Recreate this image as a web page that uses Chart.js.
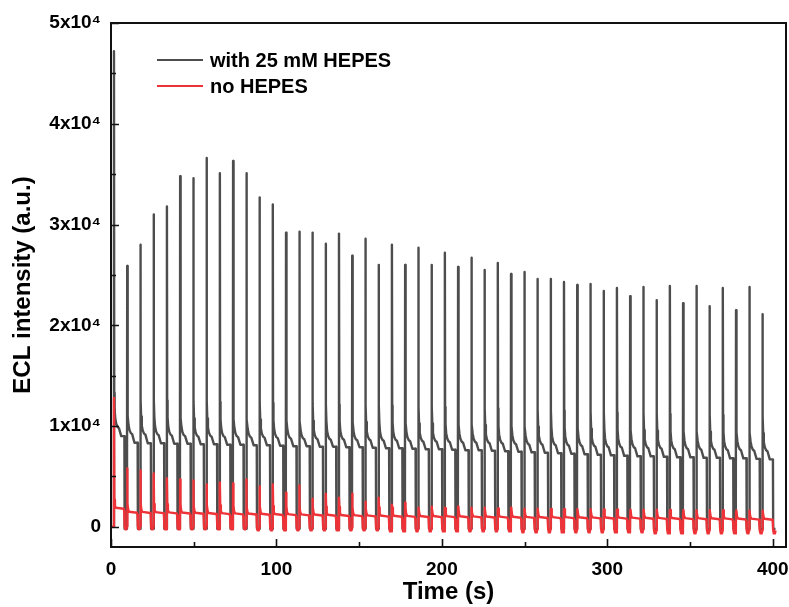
<!DOCTYPE html>
<html>
<head>
<meta charset="utf-8">
<title>ECL intensity vs time</title>
<script src="https://cdn.jsdelivr.net/npm/chart.js@4.4.1/dist/chart.umd.min.js"></script>
<style>
  html, body { margin: 0; padding: 0; background: #fff; }
  #wrap { width: 789px; height: 607px; }
</style>
</head>
<body>
<div id="wrap"><canvas id="eclChart" width="789" height="607"></canvas></div>
<script>
// pulse start times (s), one every ~8 s
var pulseTimes = [1.8, 9.8, 17.8, 25.8, 33.8, 41.8, 49.8, 57.8, 65.8, 73.8,
  81.8, 89.8, 97.8, 105.8, 113.8, 121.8, 129.8, 137.8, 145.8, 153.8,
  161.8, 169.8, 177.8, 185.8, 193.8, 201.8, 209.8, 217.8, 225.8, 233.8,
  241.8, 249.8, 257.8, 265.8, 273.8, 281.8, 289.8, 297.8, 305.8, 313.8,
  321.8, 329.8, 337.8, 345.8, 353.8, 361.8, 369.8, 377.8, 385.8, 393.8];

// with 25 mM HEPES
var hepesPeaks = [47200, 25900, 28000, 31000, 31800, 34800, 34600, 36600, 35100, 36300,
  35100, 32700, 32000, 29200, 29300, 29200, 28100, 29100, 26900, 28600,
  26000, 28000, 26000, 27700, 26000, 27200, 25800, 26700, 25500, 26200,
  25100, 25300, 24600, 24600, 24300, 24000, 24100, 23400, 23700, 22900,
  23800, 22500, 23900, 22200, 23900, 21900, 23700, 21500, 23800, 21100];
var hepesPlateau = [9800, 9200, 9150, 9100, 9050, 9000, 8950, 8950, 8900, 8900,
  8850, 8850, 8800, 8750, 8700, 8700, 8650, 8650, 8600, 8600,
  8550, 8550, 8500, 8450, 8450, 8400, 8350, 8350, 8300, 8250,
  8200, 8150, 8150, 8100, 8050, 8000, 7950, 7900, 7850, 7800,
  7800, 7750, 7700, 7700, 7650, 7650, 7600, 7600, 7550, 7500];
var hepesStep = [9000, 8350, 8300, 8300, 8250, 8250, 8200, 8200, 8150, 8150,
  8100, 8100, 8050, 8000, 8000, 7950, 7950, 7900, 7900, 7850,
  7800, 7800, 7750, 7700, 7700, 7650, 7600, 7600, 7550, 7500,
  7450, 7400, 7350, 7300, 7250, 7200, 7150, 7100, 7050, 7000,
  7000, 6950, 6900, 6900, 6850, 6850, 6800, 6800, 6750, 6700];
var hepesOff = -200;

// no HEPES
var noHepesPeaks = [12800, 5800, 5600, 5300, 4800, 4700, 4600, 4200, 4400, 4300,
  4700, 4000, 4200, 3400, 4100, 2800, 3300, 2900, 3300, 2500,
  2900, 2200, 2400, 1900, 2000, 1900, 2000, 1900, 1900, 1800,
  1900, 1700, 1800, 1700, 1700, 1600, 1700, 1600, 1600, 1500,
  1600, 1500, 1500, 1400, 1500, 1400, 1500, 1400, 1400, 1300];
var noHepesPlateau = [1800, 1400, 1380, 1360, 1340, 1320, 1300, 1280, 1260, 1240,
  1220, 1200, 1180, 1160, 1140, 1120, 1100, 1080, 1060, 1040,
  1020, 1000, 990, 980, 970, 960, 950, 940, 930, 920,
  900, 890, 880, 870, 860, 850, 840, 830, 820, 810,
  800, 790, 780, 770, 760, 750, 740, 730, 720, 700];
var noHepesOff = [-250, -250, -250, -250, -250, -250, -250, -250, -250, -250,
  -350, -350, -350, -350, -350, -350, -350, -350, -350, -350,
  -450, -450, -450, -450, -450, -450, -450, -450, -450, -450,
  -550, -550, -550, -550, -550, -550, -550, -550, -550, -550,
  -650, -650, -650, -650, -650, -650, -650, -650, -650, -650];

var xTicks = [0, 100, 200, 300, 400];
var xMinorTicks = [50, 150, 250, 350];
var yTicks = [0, 10000, 20000, 30000, 40000, 50000];
var yTickLabels = ['0', '1x10\u2074', '2x10\u2074', '3x10\u2074', '4x10\u2074', '5x10\u2074'];
var yMinorTicks = [5000, 15000, 25000, 35000, 45000];

var seriesNames = ['with 25 mM HEPES', 'no HEPES'];
var blackColor = '#4d4d4d';
var redColor = '#ee3338';

// each pulse: spike, fast decay to plateau, small step down, then off
function buildHepes() {
    var pts = [{ x: 0, y: 0 }, { x: pulseTimes[0] - 0.1, y: 0 }];
    pulseTimes.forEach(function (t, k) {
        var p = hepesPlateau[k], s = hepesStep[k];
        pts.push({ x: t, y: hepesPeaks[k] });
        pts.push({ x: t + 0.15, y: p + 3500 });
        pts.push({ x: t + 0.4, y: p + 1800 });
        pts.push({ x: t + 0.8, y: p + 900 });
        pts.push({ x: t + 1.4, y: p + 400 });
        pts.push({ x: t + 2.2, y: p + 100 });
        pts.push({ x: t + 3.0, y: p });
        pts.push({ x: t + 4.4, y: s });
        pts.push({ x: t + 6.3, y: s });
        pts.push({ x: t + 6.45, y: hepesOff });
        pts.push({ x: t + 7.85, y: hepesOff });
    });
    return pts;
}

function buildNoHepes() {
    var pts = [{ x: 0, y: 0 }, { x: pulseTimes[0] - 0.1, y: 0 }];
    pulseTimes.forEach(function (t, k) {
        var p = noHepesPlateau[k], f = noHepesOff[k];
        pts.push({ x: t, y: noHepesPeaks[k] });
        pts.push({ x: t + 0.2, y: p + 900 });
        pts.push({ x: t + 0.6, y: p + 300 });
        pts.push({ x: t + 1.2, y: p + 100 });
        pts.push({ x: t + 5.9, y: p });
        pts.push({ x: t + 6.2, y: p - 200 });
        pts.push({ x: t + 6.45, y: f + 300 });
        pts.push({ x: t + 6.8, y: f });
        pts.push({ x: t + 7.5, y: f });
        pts.push({ x: t + 7.9, y: f + 300 });
    });
    return pts;
}

var FONT = 'Arial, "Liberation Sans", sans-serif';

// frame, inward ticks and the legend drawn inside the plot
var framePlugin = {
    id: 'frame',
    afterDraw: function (chart) {
        var ctx = chart.ctx, a = chart.chartArea;
        var xs = chart.scales.x, ys = chart.scales.y;
        ctx.save();
        ctx.strokeStyle = '#111';
        ctx.lineWidth = 2;
        ctx.strokeRect(a.left, a.top, a.right - a.left, a.bottom - a.top);

        ctx.lineWidth = 1.6;
        ctx.beginPath();
        xTicks.forEach(function (v) {
            var px = Math.round(xs.getPixelForValue(v)) + 0.5;
            ctx.moveTo(px, a.bottom); ctx.lineTo(px, a.bottom - 8);
        });
        xMinorTicks.forEach(function (v) {
            var px = Math.round(xs.getPixelForValue(v)) + 0.5;
            ctx.moveTo(px, a.bottom); ctx.lineTo(px, a.bottom - 5);
        });
        yTicks.forEach(function (v) {
            var py = Math.round(ys.getPixelForValue(v)) + 0.5;
            ctx.moveTo(a.left, py); ctx.lineTo(a.left + 8, py);
        });
        yMinorTicks.forEach(function (v) {
            var py = Math.round(ys.getPixelForValue(v)) + 0.5;
            ctx.moveTo(a.left, py); ctx.lineTo(a.left + 5, py);
        });
        ctx.stroke();

        // legend
        var lx = a.left + 46, ly = a.top + 37;
        var colors = [blackColor, redColor];
        ctx.font = 'bold 20px ' + FONT;
        ctx.textBaseline = 'middle';
        ctx.fillStyle = '#000';
        seriesNames.forEach(function (name, i) {
            var y = ly + i * 26;
            ctx.strokeStyle = colors[i];
            ctx.lineWidth = 2.2;
            ctx.beginPath();
            ctx.moveTo(lx, y); ctx.lineTo(lx + 46, y);
            ctx.stroke();
            ctx.fillText(name, lx + 53, y + 1);
        });
        ctx.restore();
    }
};

var ctx = document.getElementById('eclChart').getContext('2d');
var eclChart = new Chart(ctx, {
    type: 'line',
    data: {
        datasets: [{
            label: seriesNames[0],
            data: buildHepes(),
            borderColor: blackColor,
            borderWidth: 2.4,
            order: 1
        }, {
            label: seriesNames[1],
            data: buildNoHepes(),
            borderColor: redColor,
            borderWidth: 2.4,
            order: 0
        }]
    },
    options: {
        responsive: false,
        devicePixelRatio: 1,
        animation: false,
        layout: { padding: { top: 23, right: 3, left: 0, bottom: 0 } },
        elements: {
            point: { radius: 0 },
            line: { tension: 0, borderJoinStyle: 'round', fill: false }
        },
        plugins: {
            legend: { display: false },
            tooltip: { enabled: false }
        },
        scales: {
            x: {
                type: 'linear',
                min: 0,
                max: 408,
                afterBuildTicks: function (s) { s.ticks = xTicks.map(function (v) { return { value: v }; }); },
                afterFit: function (s) {
                    s.height = 60;
                    s.paddingLeft = 0;
                    s.paddingRight = 0;
                },
                grid: { display: false, drawTicks: false },
                border: { display: false },
                ticks: {
                    color: '#000',
                    padding: 11,
                    maxRotation: 0,
                    autoSkip: false,
                    font: { family: FONT, weight: 'bold', size: 19 }
                },
                title: {
                    display: true,
                    text: 'Time (s)',
                    color: '#000',
                    padding: { top: 0, bottom: 0 },
                    font: { family: FONT, weight: 'bold', size: 24 }
                }
            },
            y: {
                type: 'linear',
                min: -2000,
                max: 50000,
                afterBuildTicks: function (s) { s.ticks = yTicks.map(function (v) { return { value: v }; }); },
                afterFit: function (s) {
                    s.width = 111;
                    s.paddingTop = 0;
                    s.paddingBottom = 0;
                },
                grid: { display: false, drawTicks: false },
                border: { display: false },
                ticks: {
                    color: '#000',
                    padding: 10,
                    autoSkip: false,
                    font: { family: FONT, weight: 'bold', size: 19 },
                    callback: function (v) { return yTickLabels[yTicks.indexOf(v)]; }
                },
                title: {
                    display: true,
                    text: 'ECL intensity (a.u.)',
                    color: '#000',
                    padding: { top: 9, bottom: 0 },
                    font: { family: FONT, weight: 'bold', size: 24 }
                }
            }
        }
    },
    plugins: [framePlugin]
});
</script>
</body>
</html>
